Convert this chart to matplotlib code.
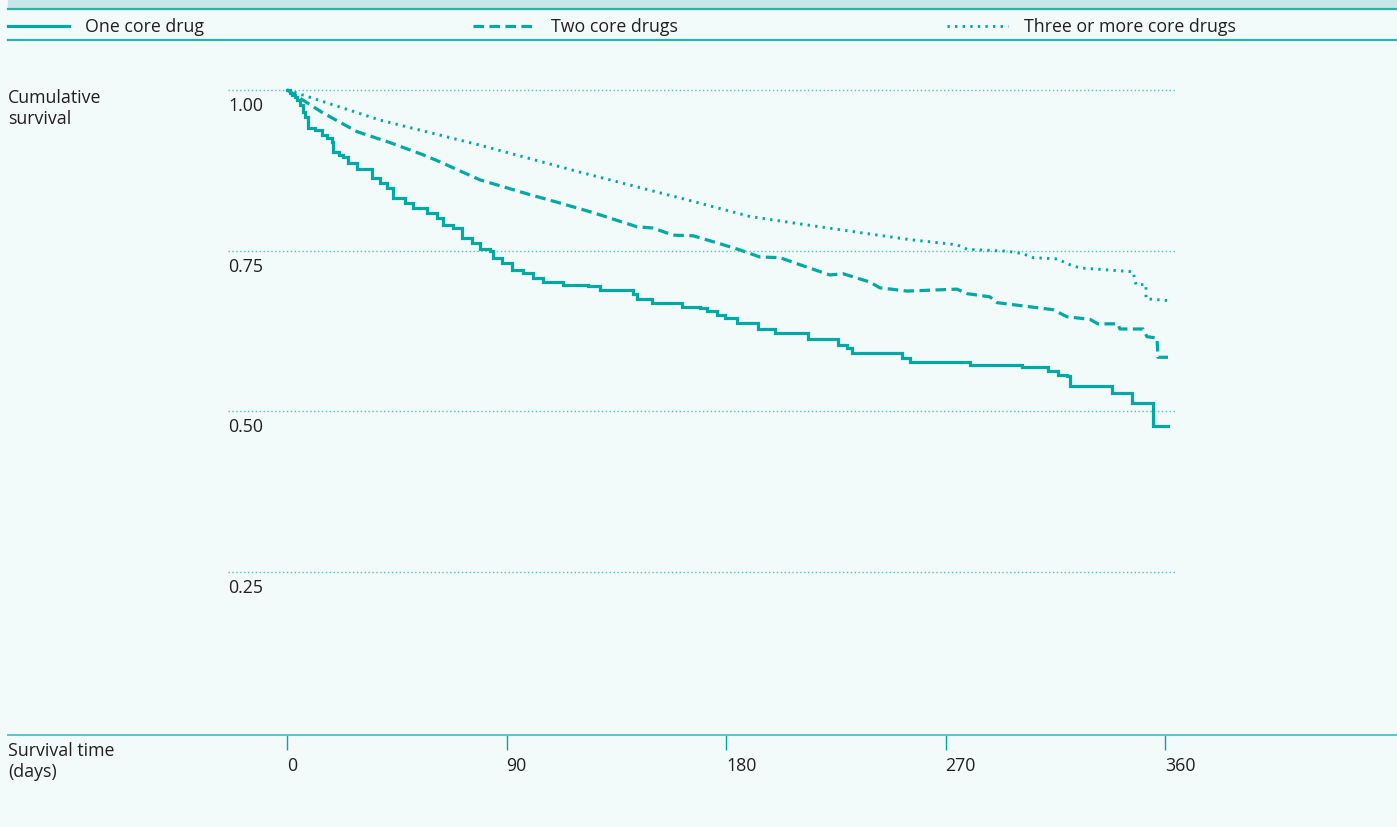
import numpy as np
import matplotlib
matplotlib.use("Agg")
import matplotlib.pyplot as plt
from matplotlib.lines import Line2D
from matplotlib.patches import Rectangle

# Kaplan-Meier style survival curves
# one core drug (step curve): time of step (days), survival after step
one_t = [0, 1.2, 2.0, 3.3, 4.1, 5.3, 6.6, 7.4, 8.6, 11.5, 14.4, 16.4, 18.5, 18.9, 21.3,
         23.0, 25.0, 28.7, 34.9, 38.1, 41.0, 43.5, 48.4, 51.7, 57.4, 61.5, 64.0, 68.1,
         71.8, 75.9, 79.1, 83.2, 84.5, 88.2, 92.3, 96.8, 100.9, 105.0, 113.2, 123.4,
         128.3, 141.9, 143.5, 149.7, 162.0, 169.3, 172.2, 176.3, 179.6, 184.5, 193.1,
         200.1, 213.6, 225.9, 229.6, 231.7, 252.2, 255.4, 280.0, 301.4, 312.0, 316.1,
         319.8, 321.0, 338.3, 346.5, 355.1, 361.2]
one_s = [1.000, 0.995, 0.992, 0.989, 0.984, 0.977, 0.966, 0.958, 0.941, 0.938, 0.930,
         0.925, 0.919, 0.903, 0.899, 0.896, 0.886, 0.877, 0.863, 0.855, 0.848, 0.832,
         0.824, 0.816, 0.809, 0.801, 0.790, 0.785, 0.769, 0.761, 0.753, 0.750, 0.738,
         0.731, 0.720, 0.715, 0.708, 0.701, 0.697, 0.695, 0.689, 0.683, 0.675, 0.668,
         0.662, 0.660, 0.656, 0.650, 0.645, 0.637, 0.628, 0.622, 0.613, 0.603, 0.599,
         0.591, 0.583, 0.577, 0.572, 0.569, 0.563, 0.557, 0.555, 0.539, 0.529, 0.513,
         0.477, 0.477]

# two core drugs
two_t = [0, 8.2, 14.8, 28.7, 42.2, 55.8, 62.7, 79.1, 99.6, 111.9, 125.5, 143.5, 150.1,
         158.3, 166.5, 176.3, 185.7, 193.9, 202.1, 210.3, 222.6, 228.0, 239.0, 243.1,
         254.2, 274.7, 278.8, 288.2, 291.1, 314.1, 319.8, 329.2, 332.5, 340.7, 341.5,
         351.0, 352.6, 356.7, 357.1, 361.2]
two_s = [1.000, 0.980, 0.964, 0.935, 0.918, 0.899, 0.888, 0.860, 0.837, 0.824, 0.809,
         0.787, 0.785, 0.774, 0.773, 0.762, 0.751, 0.740, 0.739, 0.728, 0.712, 0.714,
         0.701, 0.692, 0.687, 0.690, 0.683, 0.678, 0.669, 0.658, 0.647, 0.643, 0.636,
         0.636, 0.628, 0.628, 0.616, 0.614, 0.584, 0.584]

# three or more core drugs
three_t = [0, 38.1, 79.1, 120.1, 164.0, 189.8, 207.5, 234.9, 255.4, 274.7, 278.8, 295.2,
           301.8, 305.9, 315.7, 321.0, 325.1, 346.9, 348.1, 352.2, 352.2, 362.0]
three_s = [1.000, 0.953, 0.914, 0.872, 0.829, 0.803, 0.793, 0.778, 0.767, 0.759, 0.752,
           0.749, 0.745, 0.739, 0.737, 0.728, 0.723, 0.717, 0.697, 0.697, 0.675, 0.672]

labels = ["One core drug", "Two core drugs", "Three or more core drugs"]
x_ticks = [0, 90, 180, 270, 360]
y_ticks = [1.00, 0.75, 0.50, 0.25]

# style
teal = "#00a9a4"
grid_col = "#4fc3bf"
band_col = "#c7e6e8"
bg_col = "#f2fafa"
text_col = "#231f20"
W, H = 1397, 827
plt.rcParams["font.family"] = ["Open Sans", "DejaVu Sans"]
fs = 12.8


def fx(px):
    return px / W


def fy(py):
    return 1 - py / H


fig = plt.figure(figsize=(W / 100, H / 100), dpi=100)
fig.patch.set_facecolor(bg_col)

# header band and rules
fig.patches.append(Rectangle((fx(8), fy(9)), fx(W) - fx(8), 1 - fy(9),
                             transform=fig.transFigure, color=band_col, zorder=0))
for py in (9, 40):
    fig.lines.append(Line2D([fx(8), 1], [fy(py), fy(py)], transform=fig.transFigure,
                            color="#2bb2ad", lw=1.6))

# main axes: spans full width so the bottom rule reaches both edges
x0 = (8 - 287) / 2.439
x1 = (W - 287) / 2.439
ax = fig.add_axes([fx(8), fy(735), 1 - fx(8), fy(50) - fy(735)])
ax.set_facecolor("none")
ax.set_xlim(x0, x1)
ax.set_ylim(-0.0036, 1.062)
for s in ("top", "right", "left"):
    ax.spines[s].set_visible(False)
ax.spines["bottom"].set_color("#5cc7c3")
ax.spines["bottom"].set_linewidth(1.4)

# dotted gridlines and their labels under them
g0, g1 = (228 - 287) / 2.439, (1175 - 287) / 2.439
ax.hlines(y_ticks, g0, g1, colors=grid_col, linestyles=(0, (1, 1.8)), lw=1.0, zorder=1)
for v in y_ticks:
    ax.annotate(f"{v:.2f}", (g0, v), xytext=(0, -5.2), textcoords="offset points",
                ha="left", va="top", fontsize=fs, color=text_col)
ax.set_yticks([])

ax.set_xticks(x_ticks)
ax.set_xticklabels([str(t) for t in x_ticks], ha="left")
ax.tick_params(axis="x", direction="out", length=11, width=1, color=teal,
               labelsize=fs, labelcolor=text_col, pad=5)

l1, = ax.plot(one_t, one_s, drawstyle="steps-post", color=teal, lw=2.3,
              solid_joinstyle="miter", zorder=3)
l2, = ax.plot(two_t, two_s, color=teal, lw=2.3, linestyle=(0, (3.3, 1.7)), zorder=3)
l3, = ax.plot(three_t, three_s, color=teal, lw=2.1, linestyle=(0, (0.8, 1.8)), zorder=3)

fig.legend([l1, l2, l3], labels, ncol=3, mode="expand", loc="center left",
           bbox_to_anchor=(fx(8), fy(27), fx(1236) - fx(8), 0), frameon=False,
           fontsize=fs, labelcolor=text_col, handlelength=3.45, handletextpad=0.9,
           borderpad=0, borderaxespad=0, columnspacing=1.0)

fig.text(fx(8), fy(89), "Cumulative\nsurvival", ha="left", va="top", fontsize=fs,
         color=text_col, linespacing=1.22)
fig.text(fx(8), fy(742), "Survival time\n(days)", ha="left", va="top", fontsize=fs,
         color=text_col, linespacing=1.24)

fig.savefig("out.png", dpi=100, facecolor=bg_col)
